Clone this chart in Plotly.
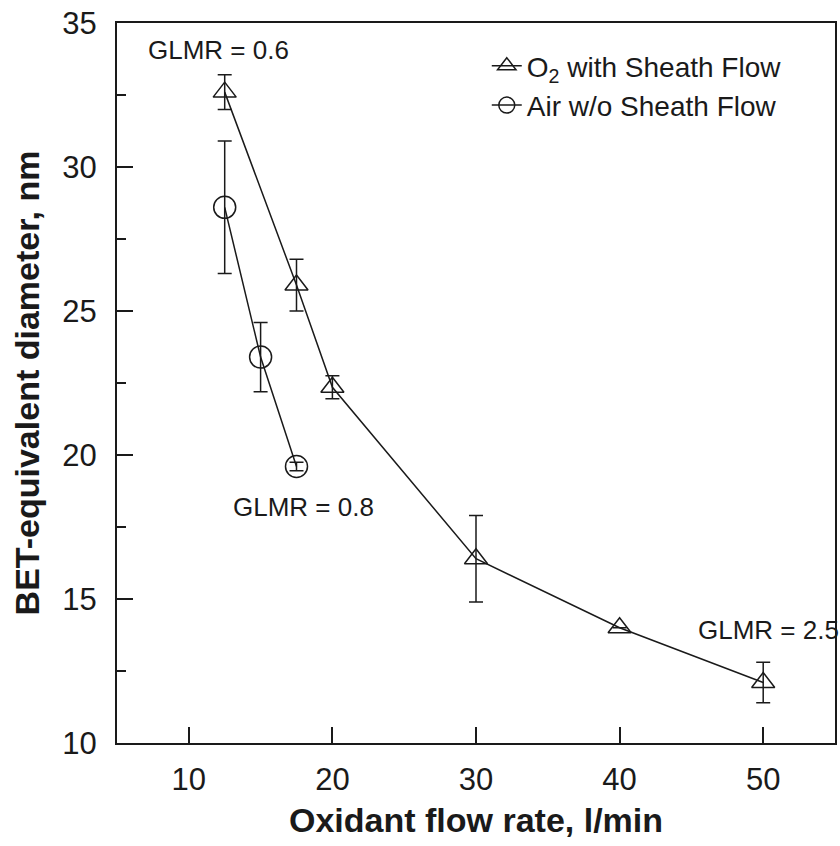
import plotly.graph_objects as go

# O2 with sheath flow
o2_x = [12.5, 17.5, 20, 30, 40, 50]
o2_y = [32.6, 25.9, 22.35, 16.4, 14.0, 12.1]
o2_err = [0.6, 0.9, 0.4, 1.5, 0.0, 0.7]

# Air without sheath flow
air_x = [12.5, 15, 17.5]
air_y = [28.6, 23.4, 19.6]
air_err = [2.3, 1.2, 0.15]

x_ticks = [10, 20, 30, 40, 50]
y_ticks = [10, 15, 20, 25, 30, 35]

FONT = "Liberation Sans"
INK = "#1a1a1a"

fig = go.Figure()
fig.add_trace(go.Scatter(
    x=o2_x, y=o2_y, mode="lines+markers", name="O<sub>2</sub> with Sheath Flow",
    line=dict(color=INK, width=1.5),
    marker=dict(symbol="triangle-up-open", size=20, color=INK, line=dict(width=1.5)),
    error_y=dict(type="data", array=o2_err, visible=True, color=INK, thickness=1.5, width=7),
))
fig.add_trace(go.Scatter(
    x=air_x, y=air_y, mode="lines+markers", name="Air w/o Sheath Flow",
    line=dict(color=INK, width=1.5),
    marker=dict(symbol="circle-open", size=22, color=INK, line=dict(width=1.5)),
    error_y=dict(type="data", array=air_err, visible=True, color=INK, thickness=1.5, width=7),
))

ann_font = dict(family=FONT, size=26, color=INK)
fig.add_annotation(x=12.1, y=34.06, text="GLMR = 0.6", showarrow=False, font=ann_font)
fig.add_annotation(x=17.96, y=18.2, text="GLMR = 0.8", showarrow=False, font=ann_font)
fig.add_annotation(x=45.3, y=13.92, text="GLMR = 2.5", showarrow=False, font=ann_font, xanchor="left")

fig.update_layout(
    width=840, height=846,
    margin=dict(l=117, r=3, t=23, b=103),
    paper_bgcolor="white", plot_bgcolor="white",
    font=dict(family=FONT, color=INK),
    showlegend=True,
    legend=dict(x=0.515, y=0.975, xanchor="left", yanchor="top",
                font=dict(family=FONT, size=28, color=INK),
                bgcolor="rgba(0,0,0,0)", tracegroupgap=0),
    xaxis=dict(range=[5, 55], tickvals=x_ticks, ticks="inside", ticklen=16, tickwidth=2,
               tickcolor=INK, showline=True, linecolor=INK, linewidth=2, mirror=True,
               showgrid=False, zeroline=False,
               tickfont=dict(family=FONT, size=31, color=INK), ticklabelstandoff=8,
               title=dict(text="<b>Oxidant flow rate, l/min</b>", font=dict(family=FONT, size=34, color=INK),
                          standoff=12)),
    yaxis=dict(range=[10, 35], tickvals=y_ticks, ticks="inside", ticklen=16, tickwidth=2,
               tickcolor=INK, showline=True, linecolor=INK, linewidth=2, mirror=True,
               showgrid=False, zeroline=False,
               minor=dict(ticks="inside", ticklen=9, tickwidth=2, tickcolor=INK, dtick=2.5, showgrid=False),
               tickfont=dict(family=FONT, size=31, color=INK), ticklabelstandoff=12,
               title=dict(text="<b>BET-equivalent diameter, nm</b>", font=dict(family=FONT, size=34, color=INK),
                          standoff=12)),
)

fig.write_html("out.html")
